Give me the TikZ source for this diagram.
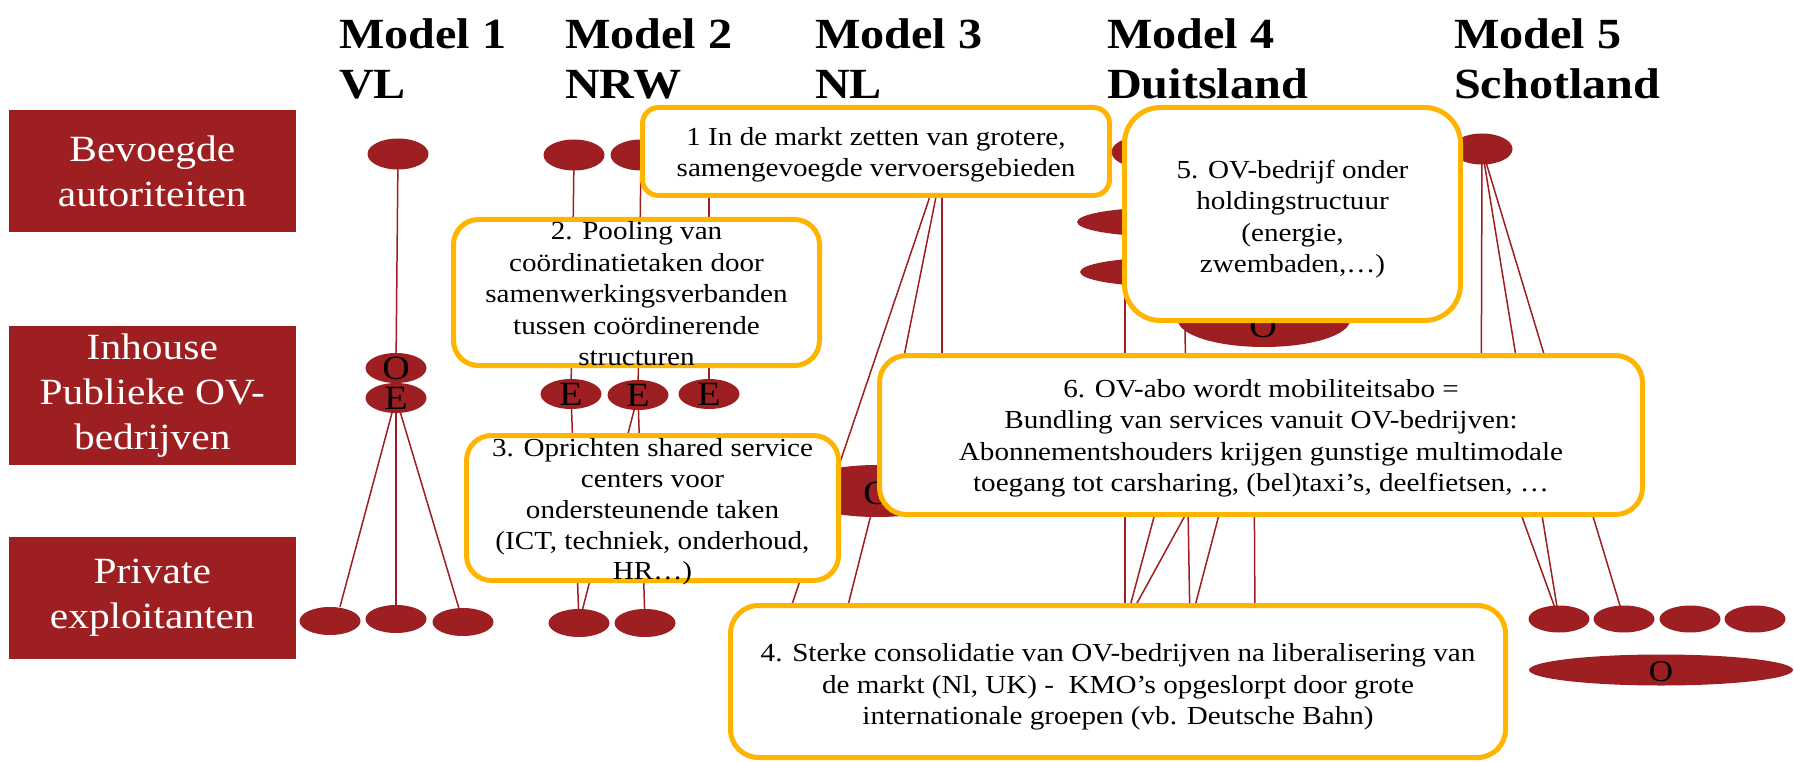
\documentclass[tikz,border=0pt]{standalone}
\usepackage{fontspec}
\setmainfont{Liberation Serif}[FakeStretch=1.12]
\usetikzlibrary{shapes.geometric}
\definecolor{mred}{RGB}{158,31,33}
\definecolor{morange}{RGB}{255,180,0}
\pgfdeclarelayer{back}
\pgfdeclarelayer{bg}
\pgfsetlayers{back,bg,main}
\begin{document}
\begin{tikzpicture}[x=1pt,y=-1pt,
 ell/.style={ellipse, fill=mred, inner sep=0pt, minimum width=61pt, minimum height=30pt},
 ellp/.style={ell, minimum height=28pt},
 wide/.style={ellipse, fill=mred, inner sep=0pt, minimum width=172pt, minimum height=#1},
 lett/.style={font=\fontsize{34}{34}\selectfont, inner sep=0pt, text=black},
 conn/.style={draw=mred, line width=1.5pt},
 obox/.style={draw=morange, line width=5pt, fill=white, rounded corners=#1, inner sep=0pt},
 btext/.style={font=\fontsize{26}{31.5}\selectfont, align=center, inner sep=0pt},
 lbox/.style={fill=mred, minimum width=287.5pt, inner sep=0pt, text=white, align=center, font=\fontsize{37}{45}\selectfont},
 head/.style={font=\bfseries\fontsize{43}{50}\selectfont, align=left, anchor=north west, inner sep=0pt},
]
\begin{pgfonlayer}{back}
\fill[white] (0,0) rectangle (1794,762);
\end{pgfonlayer}
\useasboundingbox (0,0) rectangle (1794,762);

% headings
\node[head] (h1) at (339,18) {Model 1\\VL};
\node[head] (h2) at (565,18) {Model 2\\NRW};
\node[head] (h3) at (815,18) {Model 3\\NL};
\node[head] (h4) at (1107,18) {Model 4\\Duitsland};
\node[head] (h5) at (1454,18) {Model 5\\Schotland};

% left labels
\node[lbox, minimum height=122pt] (L1) at (152.3,171) {Bevoegde\\autoriteiten};
\node[lbox, minimum height=139pt] (L2) at (152.3,395.5) {Inhouse\\Publieke OV-\\bedrijven};
\node[lbox, minimum height=122pt] (L3) at (152.3,598) {Private\\exploitanten};

% Model 1
\node[ell, minimum height=31pt] (A1) at (398,154) {};
\node[ell] (O1) at (396,368) {};
\node[ell] (E1) at (396,398) {};
\node[lett] (tO1) at (O1) {O};
\node[lett] (tE1) at (E1) {E};
\node[ellp] (P1a) at (330,621) {};
\node[ellp] (P1b) at (396,619) {};
\node[ellp] (P1c) at (463,622) {};

% Model 2
\node[ell, minimum height=31pt] (A2a) at (574,155) {};
\node[ell, minimum height=31pt] (A2b) at (641,155) {};
\node[ell, minimum height=31pt] (A2c) at (709,155) {};
\node[ell] (E2a) at (571,394) {};
\node[ell] (E2b) at (638,395) {};
\node[ell] (E2c) at (709,394) {};
\node[lett] (tE2a) at (E2a) {E};
\node[lett] (tE2b) at (E2b) {E};
\node[lett] (tE2c) at (E2c) {E};
\node[ellp] (P2a) at (579,623) {};
\node[ellp] (P2b) at (645,623) {};

% Model 3
\node[ell, minimum height=31pt] (A3) at (945,152) {};
\node[wide=52pt] (O3) at (877,491) {};
\node[lett] (tO3) at (877,493) {O};
\node[ellp] (P3a) at (785,625) {};
\node[ellp] (P3b) at (843,625) {};
\coordinate (c3) at (942,480);

% Model 4
\node[ell, minimum height=31pt] (A4) at (1142,152) {};
\node[wide=29pt] (W4a) at (1163,222) {};
\node[wide=29pt] (W4b) at (1166,272) {};
\node[wide=54pt] (O4) at (1264,320) {};
\node[lett] (tO4) at (1263,326) {O};
\node[ellp] (P4a) at (1125,625) {};
\node[ellp] (P4b) at (1190,625) {};
\node[ellp] (P4c) at (1255,625) {};
\coordinate (c4a) at (1125,272);
\coordinate (c4b) at (1185,330);
\coordinate (c4c) at (1176,435);
\coordinate (c4d) at (1210,470);
\coordinate (c4e) at (1240,435);
\coordinate (c4f) at (1254,440);

% Model 5
\node[ell, minimum height=31pt] (A5) at (1482,149) {};
\node[ellp, minimum height=27pt] (P5a) at (1559,619) {};
\node[ellp, minimum height=27pt] (P5b) at (1624,619) {};
\node[ellp, minimum height=27pt] (P5c) at (1690,619) {};
\node[ellp, minimum height=27pt] (P5d) at (1755,619) {};
\node[ellipse, fill=mred, inner sep=0pt, minimum width=264pt, minimum height=31pt] (B5) at (1661,670) {};
\node[lett, font=\fontsize{30}{30}\selectfont] (tB5) at (1661,672) {O};
\coordinate (c5a) at (1481,470);
\coordinate (c5b) at (1505,470);

% connectors (behind)
\begin{pgfonlayer}{bg}
\draw[conn] (A1.center) -- (O1.center);
\draw[conn] (E1.center) -- ([xshift=10pt]P1a.north);
\draw[conn] (E1.center) -- (P1b.center);
\draw[conn] (E1.center) -- (P1c.center);
\draw[conn] (A2a.center) -- (E2a.center);
\draw[conn] (A2b.center) -- (E2b.center);
\draw[conn] (A2c.center) -- (E2c.center);
\draw[conn] (E2a.center) -- (P2a.center);
\draw[conn] (E2b.center) -- (P2a.center);
\draw[conn] (E2b.center) -- (P2b.center);
\draw[conn] (A3.center) -- (P3a.center);
\draw[conn] (A3.center) -- (O3.center);
\draw[conn] (A3.center -| c3) -- (c3);
\draw[conn] (O3.center) -- (P3b.center);
\draw[conn] (c4a) -- (P4a.center);
\draw[conn] (c4b) -- (P4b.center);
\draw[conn] (c4c) -- (P4a.center);
\draw[conn] (c4d) -- (P4a.center);
\draw[conn] (c4e) -- (P4b.center);
\draw[conn] (c4f) -- (P4c.center);
\draw[conn] (A5.center) -- (c5a);
\draw[conn] (A5.center) -- (P5a.center);
\draw[conn] (A5.center) -- (P5b.center);
\draw[conn] (c5b) -- (P5a.center);
\end{pgfonlayer}

% boxes
\node[obox=16pt, minimum width=467pt, minimum height=88pt] (B1) at (876,151.5) {};
\node[btext] (T1) at (876,155) {1 In de markt zetten van grotere,\\samengevoegde vervoersgebieden};
\node[obox=25pt, minimum width=366pt, minimum height=146pt] (B2) at (636.5,292.5) {};
\node[btext] (T2) at (636.5,294) {2. Pooling van\\coördinatietaken door\\samenwerkingsverbanden\\tussen coördinerende\\structuren};
\node[obox=25pt, minimum width=372pt, minimum height=145pt] (B3) at (652.5,508) {};
\node[btext, font=\fontsize{26}{30.8}\selectfont] (T3) at (652.5,512) {3. Oprichten shared service\\centers voor\\ondersteunende taken\\(ICT, techniek, onderhoud,\\HR…)};
\node[obox=28pt, minimum width=775pt, minimum height=152pt] (B4) at (1118,681.5) {};
\node[btext] (T4) at (1118,687) {4. Sterke consolidatie van OV-bedrijven na liberalisering van\\de markt (Nl, UK) -\ \ KMO’s opgeslorpt door grote\\internationale groepen (vb. Deutsche Bahn)};
\node[obox=36pt, minimum width=336pt, minimum height=213pt] (B5b) at (1292.5,214) {};
\node[btext] (T5) at (1292.5,219) {5. OV-bedrijf onder\\holdingstructuur\\(energie,\\zwembaden,…)};
\node[obox=27pt, minimum width=763pt, minimum height=159pt] (B6) at (1261,435) {};
\node[btext] (T6) at (1261,438.5) {6. OV-abo wordt mobiliteitsabo =\\Bundling van services vanuit OV-bedrijven:\\Abonnementshouders krijgen gunstige multimodale\\toegang tot carsharing, (bel)taxi’s, deelfietsen, …};
\end{tikzpicture}
\end{document}
